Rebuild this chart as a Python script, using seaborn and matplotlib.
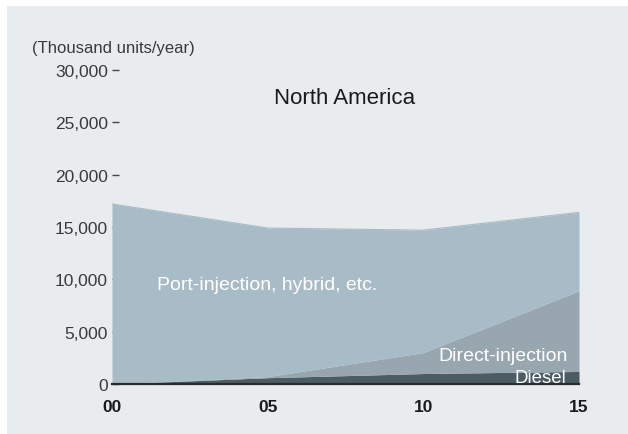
import matplotlib
matplotlib.use("Agg")
import matplotlib.pyplot as plt
import seaborn as sns
import pandas as pd
from matplotlib.patches import Rectangle

# Engine production in North America, thousand units per year
years = ["00", "05", "10", "15"]
diesel = [0, 600, 1000, 1200]
direct_injection = [0, 100, 2000, 7700]
port_injection = [17200, 14200, 11700, 7500]

sns.set_theme(style="white")
plt.rcParams["font.family"] = ["Liberation Sans", "DejaVu Sans"]

BG = "#E8ECEF"
C_PORT = "#A7BCC7"
C_DI = "#97A6AF"
C_DIESEL = "#4B5C64"
TXT = "#3a3a3a"

df = pd.DataFrame({
    "year": years,
    "Diesel": diesel,
    "Direct-injection": direct_injection,
    "Port-injection, hybrid, etc.": port_injection,
})
df["x"] = range(len(df))

fig = plt.figure(figsize=(6.28, 4.35), dpi=100, facecolor="white")
fig.patches.append(Rectangle((7 / 628, 0), 1 - 7 / 628, 1 - 7 / 435,
                             transform=fig.transFigure, facecolor=BG,
                             edgecolor="none", zorder=-10))

ax = fig.add_axes([112 / 628, 1 - 385 / 435, (579 - 112) / 628, (385 - 71) / 435])
ax.set_facecolor("none")
ax.set_zorder(2)

layers = ["Diesel", "Direct-injection", "Port-injection, hybrid, etc."]
colors = [C_DIESEL, C_DI, C_PORT]
ax.stackplot(df["x"], *[df[c] for c in layers], colors=colors, linewidth=0)
# thin outline of the total so seaborn draws the top edge
df["total"] = df[layers].sum(axis=1)
sns.lineplot(data=df, x="x", y="total", ax=ax, color=C_PORT, linewidth=0.8)

ax.set_xlim(0, 3)
ax.set_ylim(0, 30000)
ax.set_xlabel("")
ax.set_ylabel("")
for s in ["top", "right", "left"]:
    ax.spines[s].set_visible(False)
ax.spines["bottom"].set_color("#2b2b2b")
ax.spines["bottom"].set_linewidth(1.6)
ax.spines["bottom"].set_zorder(5)

ax.set_xticks(df["x"])
ax.set_xticklabels(years, fontsize=12.5, fontweight="bold", color="#1a1a1a")
ax.tick_params(axis="x", length=0, pad=11)

yt = list(range(0, 30001, 5000))
ax.set_yticks(yt)
ax.set_yticklabels([f"{v:,}" for v in yt], fontsize=12.5, color=TXT)
ax.tick_params(axis="y", direction="in", length=5, width=1, color="#444444",
               pad=3, left=True)
for t in ax.yaxis.get_major_ticks():
    t.tick1line.set_zorder(6)

fig.text(32 / 628, 1 - 48 / 435, "(Thousand units/year)", fontsize=12,
         color=TXT, va="center", ha="left")
fig.text(345 / 628, 1 - 98 / 435, "North America", fontsize=16, color="#1a1a1a",
         va="center", ha="center")

ax.text(157 / 628, 1 - 286 / 435, "Port-injection, hybrid, etc.",
        transform=fig.transFigure, fontsize=14, color="white",
        va="center", ha="left", zorder=10)
ax.text(568 / 628, 1 - 357 / 435, "Direct-injection",
        transform=fig.transFigure, fontsize=14, color="white",
        va="center", ha="right", zorder=10)
ax.text(566 / 628, 1 - 379 / 435, "Diesel",
        transform=fig.transFigure, fontsize=13.5, color="white",
        va="center", ha="right", zorder=10)

fig.savefig("out.png", dpi=100, facecolor="white")
